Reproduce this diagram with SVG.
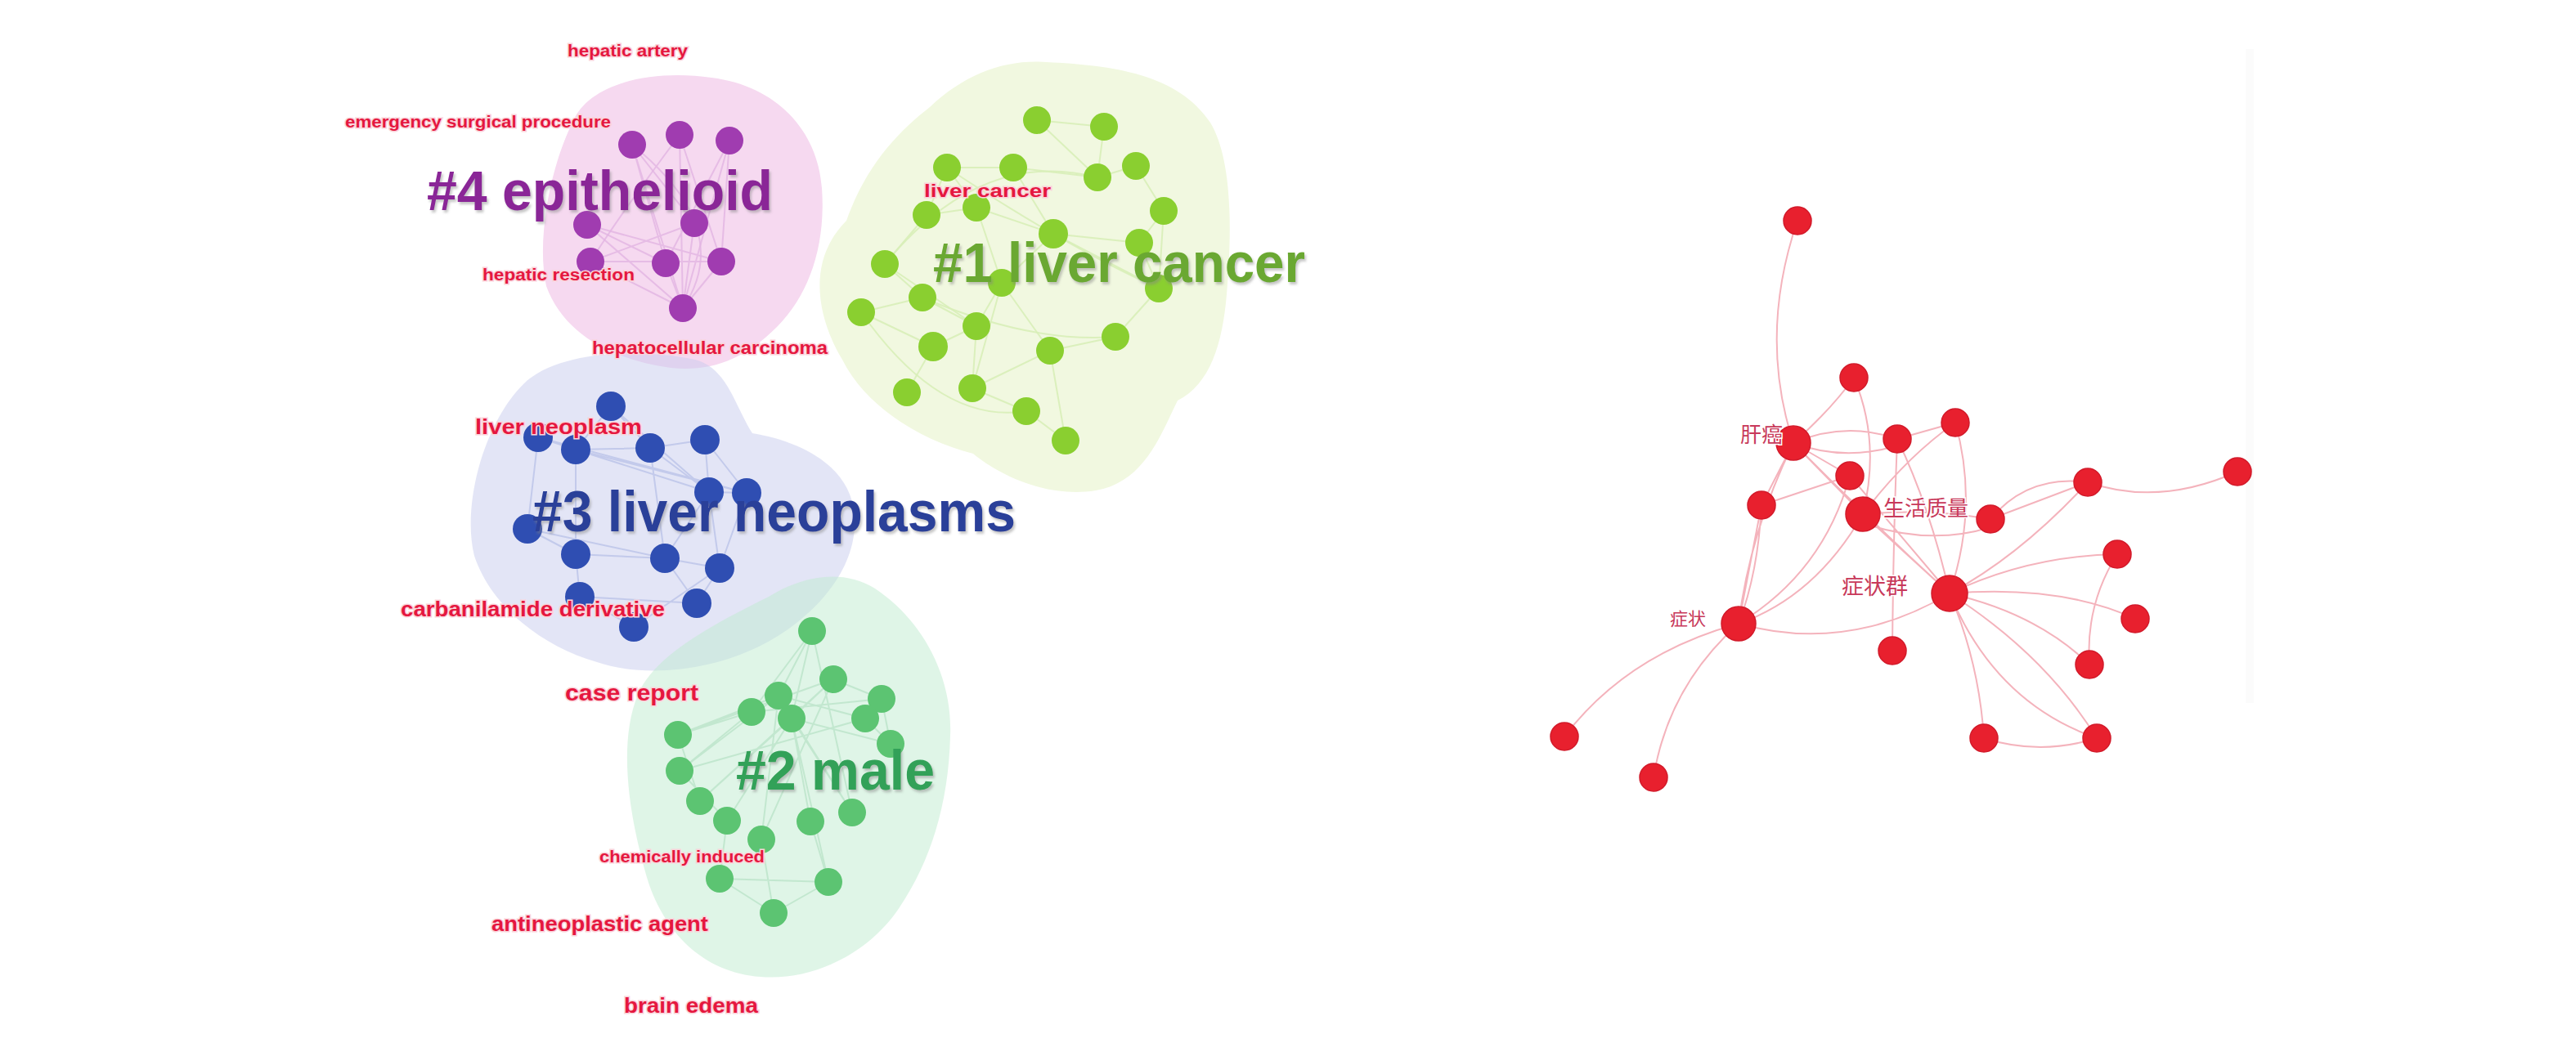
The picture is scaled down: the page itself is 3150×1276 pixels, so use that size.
<svg xmlns="http://www.w3.org/2000/svg" width="3150" height="1276" viewBox="0 0 3150 1276">
<defs>
<filter id="sh" x="-5%" y="-20%" width="110%" height="140%">
<feDropShadow dx="2" dy="3" stdDeviation="1.5" flood-color="#808080" flood-opacity="0.45"/>
</filter>
</defs>
<style>
.lbl{font-family:"Liberation Sans",Arial,sans-serif;font-weight:bold;fill:#E5173F;stroke:#FAD3DA;stroke-width:3;paint-order:stroke;}
.cl{font-family:"Liberation Sans",Arial,sans-serif;font-weight:bold;filter:url(#sh);}
.zh{font-family:"Noto Sans CJK SC",sans-serif;fill:#C8395A;stroke:#fff;stroke-width:3;paint-order:stroke;}
.ep{stroke:#E2B4E2;stroke-width:2;fill:none;opacity:.8}
.eg{stroke:#D8EEB8;stroke-width:2;fill:none;opacity:.9}
.eb{stroke:#BFC7EA;stroke-width:2;fill:none;opacity:.9}
.em{stroke:#BFE6CC;stroke-width:2;fill:none;opacity:.9}
.er{stroke:#F4B3BC;stroke-width:2;fill:none}
.np{fill:#A03CB0}
.ng{fill:#8ACF30}
.nb{fill:#2F4EB2}
.nm{fill:#5CC472}
.nr{fill:#E8202E;stroke:#D21A2A;stroke-width:1.5}
</style>
<rect width="3150" height="1276" fill="#fff"/>
<rect x="2746" y="60" width="10" height="800" fill="#FBFBFB"/>
<g id="blobs">
<path d="M 1137,131 C 1180,90 1230,72 1280,76 C 1360,80 1440,90 1480,150 C 1510,200 1505,300 1500,360 C 1495,420 1480,470 1440,490 C 1420,530 1400,590 1340,600 C 1280,610 1220,580 1190,555 C 1130,540 1060,500 1030,440 C 1000,390 985,320 1035,270 C 1060,200 1100,160 1137,131 Z" fill="#F1F8E0"/>
<path d="M 700,150 C 720,100 800,85 870,95 C 950,105 1000,160 1005,230 C 1010,300 990,360 950,400 C 910,440 870,455 820,450 C 750,440 690,410 668,350 C 655,290 675,200 700,150 Z" fill="#F6D9F0"/>
<path d="M 640,470 C 680,430 780,425 850,440 C 890,450 900,500 920,530 C 980,540 1040,570 1045,630 C 1050,700 990,760 930,790 C 870,820 790,830 730,810 C 660,790 600,740 580,680 C 565,620 590,520 640,470 Z" fill="#C8CCEE" fill-opacity="0.5"/>
<path d="M 780,850 C 800,800 880,760 940,730 C 980,705 1030,695 1070,720 C 1130,760 1165,830 1162,900 C 1160,980 1140,1050 1100,1110 C 1060,1170 990,1200 930,1195 C 860,1190 810,1140 790,1070 C 770,1000 755,910 780,850 Z" fill="#C0EBD0" fill-opacity="0.5"/>
</g>
<g id="connectors">
<path class="ep" d="M773,177L835,377M831,165L835,377M892,172L882,320M892,172L814,322M718,275L835,377M718,275L814,322M849,273L835,377M849,273L722,320M722,320L835,377M722,320L882,320M814,322L835,377M882,320L835,377M773,177L814,322M831,165L882,320M718,275L882,320M773,177L849,273M892,172L835,377"/>
<path class="ep" d="M831,165Q760,260 722,320M773,177Q900,280 835,377"/>
<path class="eg" d="M1268,147L1350,155M1268,147L1342,217M1350,155L1342,217M1158,205L1239,205M1239,205L1288,286M1158,205L1194,254M1133,263L1194,254M1194,254L1288,286M1288,286L1393,297M1393,297L1423,258M1342,217L1389,203M1389,203L1423,258M1288,286L1225,346M1133,263L1082,323M1082,323L1128,364M1128,364L1194,399M1225,346L1194,399M1194,399L1141,424M1141,424L1109,480M1194,399L1189,475M1189,475L1255,503M1255,503L1303,539M1284,429L1364,412M1225,346L1284,429M1393,297L1417,353M1417,353L1364,412M1053,382L1141,424M1053,382L1128,364M1194,254L1225,346M1239,205L1342,217M1158,205L1133,263M1288,286L1417,353M1423,258L1417,353M1082,323L1194,399M1225,346L1189,475M1284,429L1189,475M1303,539L1284,429"/>
<path class="eg" d="M1082,323Q1200,180 1342,217M1128,364Q1260,420 1364,412M1053,382Q1150,520 1255,503M1158,205Q1300,300 1417,353"/>
<path class="eb" d="M747,497L704,550M747,497L795,548M658,535L704,550M704,550L795,548M795,548L862,538M704,550L867,602M795,548L867,602M862,538L867,602M862,538L913,603M867,602L913,603M658,535L645,647M645,647L704,678M704,678L813,683M813,683L880,695M867,602L880,695M913,603L880,695M645,647L813,683M704,678L709,730M709,730L852,738M813,683L852,738M880,695L852,738M709,730L775,767M704,550L704,678M795,548L813,683M704,550L913,603M658,535L913,603M747,497L867,602M867,602L813,683M880,695L775,767"/>
<path class="em" d="M993,772L952,851M993,772L968,879M993,772L919,871M1019,831L968,879M1019,831L1078,855M952,851L1058,879M919,871L829,899M919,871L831,943M968,879L1089,910M968,879L856,980M968,879L889,1004M968,879L991,1005M952,851L831,943M952,851L829,899M1078,855L1089,910M1058,879L1089,910M829,899L856,980M831,943L889,1004M1019,831L931,1027M968,879L1042,994M991,1005L1013,1079M880,1075L1013,1079M880,1075L946,1117M1013,1079L946,1117M889,1004L880,1075M931,1027L946,1117M968,879L1013,1079M952,851L931,1027M1058,879L831,943M1019,831L829,899M1078,855L919,871M993,772L1042,994M1019,831L856,980M952,851L1042,994"/>
<path class="er" d="M2198,270Q2150,410 2193,542M2193,542Q2240,500 2267,462M2267,462Q2300,540 2278,629M2193,542Q2256,515 2320,537M2193,542Q2256,565 2320,545M2320,537L2391,517M2193,542L2262,582M2193,542L2154,618M2193,542L2278,629M2193,542Q2290,640 2384,726M2193,542Q2140,650 2126,763M2391,517Q2420,620 2384,726M2391,517Q2330,560 2278,629M2320,537Q2360,620 2384,726M2278,629Q2356,622 2434,635M2278,640Q2360,668 2434,645M2278,629L2384,726M2278,629Q2220,730 2126,763M2434,635L2553,590M2434,635Q2480,580 2553,590M2553,590Q2640,620 2736,577M2553,590Q2470,680 2384,726M2384,726Q2480,680 2589,678M2384,726Q2520,715 2611,757M2384,726Q2490,750 2555,813M2384,726Q2420,810 2426,903M2384,726Q2500,800 2564,903M2384,726Q2440,860 2564,903M2589,678Q2550,740 2555,813M2426,903Q2495,925 2564,903M2384,726Q2260,800 2126,763M2126,763Q1990,800 1913,901M2126,763Q2040,840 2022,951M2126,763L2154,618M2126,763Q2230,700 2262,582M2314,796Q2315,660 2320,537M2154,618L2262,582M2262,582L2384,726M2154,618Q2150,700 2126,763"/>
</g>
<g id="cluster4">
<g id="p1"><circle class="np" cx="773" cy="177" r="17"/></g>
<g id="p2"><circle class="np" cx="831" cy="165" r="17"/></g>
<g id="p3"><circle class="np" cx="892" cy="172" r="17"/></g>
<g id="p4"><circle class="np" cx="718" cy="275" r="17"/></g>
<g id="p5"><circle class="np" cx="849" cy="273" r="17"/></g>
<g id="p6"><circle class="np" cx="722" cy="320" r="17"/></g>
<g id="p7"><circle class="np" cx="814" cy="322" r="17"/></g>
<g id="p8"><circle class="np" cx="882" cy="320" r="17"/></g>
<g id="p9"><circle class="np" cx="835" cy="377" r="17"/></g>
</g>
<g id="cluster1">
<g id="g1"><circle class="ng" cx="1268" cy="147" r="17"/></g>
<g id="g2"><circle class="ng" cx="1350" cy="155" r="17"/></g>
<g id="g3"><circle class="ng" cx="1158" cy="205" r="17"/></g>
<g id="g4"><circle class="ng" cx="1239" cy="205" r="17"/></g>
<g id="g5"><circle class="ng" cx="1342" cy="217" r="17"/></g>
<g id="g6"><circle class="ng" cx="1389" cy="203" r="17"/></g>
<g id="g7"><circle class="ng" cx="1423" cy="258" r="17"/></g>
<g id="g8"><circle class="ng" cx="1133" cy="263" r="17"/></g>
<g id="g9"><circle class="ng" cx="1194" cy="254" r="17"/></g>
<g id="g10"><circle class="ng" cx="1288" cy="286" r="18"/></g>
<g id="g11"><circle class="ng" cx="1393" cy="297" r="17"/></g>
<g id="g12"><circle class="ng" cx="1082" cy="323" r="17"/></g>
<g id="g13"><circle class="ng" cx="1225" cy="346" r="17"/></g>
<g id="g14"><circle class="ng" cx="1417" cy="353" r="17"/></g>
<g id="g15"><circle class="ng" cx="1128" cy="364" r="17"/></g>
<g id="g16"><circle class="ng" cx="1053" cy="382" r="17"/></g>
<g id="g17"><circle class="ng" cx="1194" cy="399" r="17"/></g>
<g id="g18"><circle class="ng" cx="1141" cy="424" r="18"/></g>
<g id="g19"><circle class="ng" cx="1284" cy="429" r="17"/></g>
<g id="g20"><circle class="ng" cx="1364" cy="412" r="17"/></g>
<g id="g21"><circle class="ng" cx="1109" cy="480" r="17"/></g>
<g id="g22"><circle class="ng" cx="1189" cy="475" r="17"/></g>
<g id="g23"><circle class="ng" cx="1255" cy="503" r="17"/></g>
<g id="g24"><circle class="ng" cx="1303" cy="539" r="17"/></g>
</g>
<g id="cluster3">
<g id="b1"><circle class="nb" cx="747" cy="497" r="18"/></g>
<g id="b2"><circle class="nb" cx="658" cy="535" r="18"/></g>
<g id="b3"><circle class="nb" cx="704" cy="550" r="18"/></g>
<g id="b4"><circle class="nb" cx="795" cy="548" r="18"/></g>
<g id="b5"><circle class="nb" cx="862" cy="538" r="18"/></g>
<g id="b6"><circle class="nb" cx="867" cy="602" r="18"/></g>
<g id="b7"><circle class="nb" cx="913" cy="603" r="18"/></g>
<g id="b8"><circle class="nb" cx="645" cy="647" r="18"/></g>
<g id="b9"><circle class="nb" cx="704" cy="678" r="18"/></g>
<g id="b10"><circle class="nb" cx="813" cy="683" r="18"/></g>
<g id="b11"><circle class="nb" cx="880" cy="695" r="18"/></g>
<g id="b12"><circle class="nb" cx="709" cy="730" r="18"/></g>
<g id="b13"><circle class="nb" cx="852" cy="738" r="18"/></g>
<g id="b14"><circle class="nb" cx="775" cy="767" r="18"/></g>
</g>
<g id="cluster2">
<g id="m1"><circle class="nm" cx="993" cy="772" r="17"/></g>
<g id="m2"><circle class="nm" cx="1019" cy="831" r="17"/></g>
<g id="m3"><circle class="nm" cx="952" cy="851" r="17"/></g>
<g id="m4"><circle class="nm" cx="919" cy="871" r="17"/></g>
<g id="m5"><circle class="nm" cx="968" cy="879" r="17"/></g>
<g id="m6"><circle class="nm" cx="1078" cy="855" r="17"/></g>
<g id="m7"><circle class="nm" cx="1058" cy="879" r="17"/></g>
<g id="m8"><circle class="nm" cx="1089" cy="910" r="17"/></g>
<g id="m9"><circle class="nm" cx="829" cy="899" r="17"/></g>
<g id="m10"><circle class="nm" cx="831" cy="943" r="17"/></g>
<g id="m11"><circle class="nm" cx="856" cy="980" r="17"/></g>
<g id="m12"><circle class="nm" cx="889" cy="1004" r="17"/></g>
<g id="m13"><circle class="nm" cx="931" cy="1027" r="17"/></g>
<g id="m14"><circle class="nm" cx="991" cy="1005" r="17"/></g>
<g id="m15"><circle class="nm" cx="1042" cy="994" r="17"/></g>
<g id="m16"><circle class="nm" cx="880" cy="1075" r="17"/></g>
<g id="m17"><circle class="nm" cx="1013" cy="1079" r="17"/></g>
<g id="m18"><circle class="nm" cx="946" cy="1117" r="17"/></g>
</g>
<g id="network-right">
<g id="r1"><circle class="nr" cx="2198" cy="270" r="17"/></g>
<g id="r2"><circle class="nr" cx="2267" cy="462" r="17"/></g>
<g id="r3"><circle class="nr" cx="2193" cy="542" r="21"/><text class="zh" x="2180" y="541" font-size="26" text-anchor="end">肝癌</text></g>
<g id="r4"><circle class="nr" cx="2320" cy="537" r="17"/></g>
<g id="r5"><circle class="nr" cx="2391" cy="517" r="17"/></g>
<g id="r6"><circle class="nr" cx="2262" cy="582" r="17"/></g>
<g id="r7"><circle class="nr" cx="2154" cy="618" r="17"/></g>
<g id="r8"><circle class="nr" cx="2278" cy="629" r="21"/><text class="zh" x="2303" y="631" font-size="26">生活质量</text></g>
<g id="r9"><circle class="nr" cx="2434" cy="635" r="17"/></g>
<g id="r10"><circle class="nr" cx="2553" cy="590" r="17"/></g>
<g id="r11"><circle class="nr" cx="2736" cy="577" r="17"/></g>
<g id="r12"><circle class="nr" cx="2589" cy="678" r="17"/></g>
<g id="r13"><circle class="nr" cx="2384" cy="726" r="22"/><text class="zh" x="2333" y="727" font-size="27" text-anchor="end">症状群</text></g>
<g id="r14"><circle class="nr" cx="2611" cy="757" r="17"/></g>
<g id="r15"><circle class="nr" cx="2126" cy="763" r="21"/><text class="zh" x="2086" y="765" font-size="22" text-anchor="end">症状</text></g>
<g id="r16"><circle class="nr" cx="2314" cy="796" r="17"/></g>
<g id="r17"><circle class="nr" cx="2555" cy="813" r="17"/></g>
<g id="r18"><circle class="nr" cx="2426" cy="903" r="17"/></g>
<g id="r19"><circle class="nr" cx="2564" cy="903" r="17"/></g>
<g id="r20"><circle class="nr" cx="1913" cy="901" r="17"/></g>
<g id="r21"><circle class="nr" cx="2022" cy="951" r="17"/></g>
</g>
<g id="cluster-labels">
<text class="cl" x="522" y="257" font-size="68" fill="#8A2797" textLength="423" lengthAdjust="spacingAndGlyphs">#4 epithelioid</text>
<text class="cl" x="1141" y="345" font-size="68" fill="#6BA830" textLength="455" lengthAdjust="spacingAndGlyphs">#1 liver cancer</text>
<text class="cl" x="651" y="650" font-size="70" fill="#2B3F99" textLength="591" lengthAdjust="spacingAndGlyphs">#3 liver neoplasms</text>
<text class="cl" x="900" y="966" font-size="68" fill="#32A158" textLength="243" lengthAdjust="spacingAndGlyphs">#2 male</text>
</g>
<g id="keyword-labels">
<text class="lbl" x="694" y="69" font-size="20" textLength="147" lengthAdjust="spacingAndGlyphs">hepatic artery</text>
<text class="lbl" x="422" y="156" font-size="20" textLength="325" lengthAdjust="spacingAndGlyphs">emergency surgical procedure</text>
<text class="lbl" x="590" y="343" font-size="20" textLength="186" lengthAdjust="spacingAndGlyphs">hepatic resection</text>
<text class="lbl" x="724" y="433" font-size="22" textLength="288" lengthAdjust="spacingAndGlyphs">hepatocellular carcinoma</text>
<text class="lbl" x="1130" y="241" font-size="22" textLength="155" lengthAdjust="spacingAndGlyphs">liver cancer</text>
<text class="lbl" x="581" y="531" font-size="26" textLength="204" lengthAdjust="spacingAndGlyphs">liver neoplasm</text>
<text class="lbl" x="490" y="754" font-size="26" textLength="323" lengthAdjust="spacingAndGlyphs">carbanilamide derivative</text>
<text class="lbl" x="691" y="857" font-size="28" textLength="163" lengthAdjust="spacingAndGlyphs">case report</text>
<text class="lbl" x="733" y="1055" font-size="20" textLength="202" lengthAdjust="spacingAndGlyphs">chemically induced</text>
<text class="lbl" x="601" y="1139" font-size="26" textLength="265" lengthAdjust="spacingAndGlyphs">antineoplastic agent</text>
<text class="lbl" x="763" y="1239" font-size="26" textLength="164" lengthAdjust="spacingAndGlyphs">brain edema</text>
</g>
</svg>
